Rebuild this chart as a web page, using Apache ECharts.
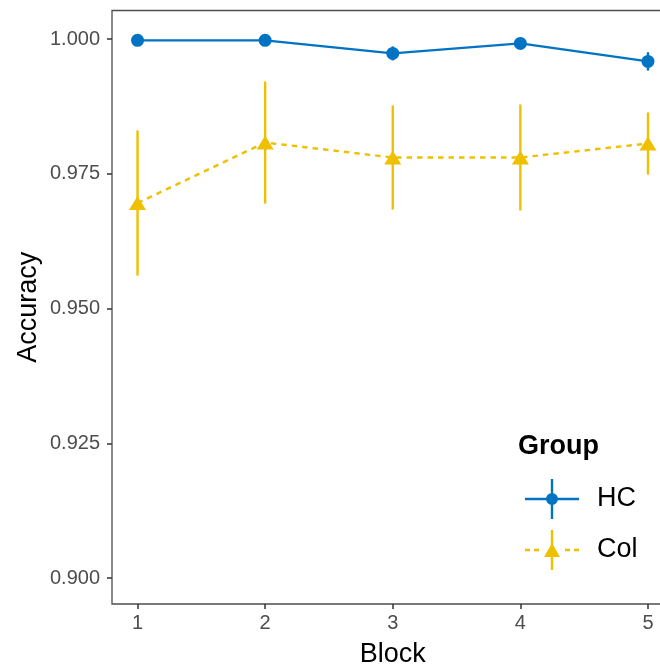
<!DOCTYPE html>
<html>
<head>
<meta charset="utf-8">
<script src="https://cdn.jsdelivr.net/npm/echarts@6/dist/echarts.min.js"></script>
<style>html,body{margin:0;padding:0;background:#fff;}#c{width:660px;height:668px;}</style>
</head>
<body>
<div id="c"></div>
<script>
// ---- data ----
const blocks = [1, 2, 3, 4, 5];
const hcMean = [0.99976, 0.99976, 0.99734, 0.99920, 0.99586];
const hcErr  = [0.0000, 0.0000, 0.0013, 0.0005, 0.0017];
const colMean = [0.96958, 0.98081, 0.97803, 0.97803, 0.98063];
const colErr  = [0.01347, 0.01133, 0.00966, 0.00984, 0.00576];
const yTicks = [0.900, 0.925, 0.950, 0.975, 1.000];
const seriesNames = ['HC', 'Col'];

const BLUE = '#0073C2', YELLOW = '#EFC000';
const FONT = '"Liberation Sans", Arial, Helvetica, sans-serif';

const pts = (m) => blocks.map((b, i) => [b, m[i]]);
const bars = (m, e) => blocks.map((b, i) => [b, m[i] - e[i], m[i] + e[i]]);

function errRender(color) {
  return function (params, api) {
    const p1 = api.coord([api.value(0), api.value(1)]);
    const p2 = api.coord([api.value(0), api.value(2)]);
    return {
      type: 'line',
      shape: { x1: p1[0], y1: p1[1], x2: p2[0], y2: p2[1] },
      style: { stroke: color, lineWidth: 2.4 }
    };
  };
}

// legend icons (key: horizontal line + vertical error bar + marker), 54x40 box
const circ = 'M21,20 A6,6 0 1,1 33,20 A6,6 0 1,1 21,20 Z';
const hcIcon = 'path://M0,18.8 H54 V21.2 H0 Z M25.8,0 H28.2 V40 H25.8 Z ' + circ;
let dash = '';
[[0,5],[9,14],[40,45],[49,54]].forEach(d => { dash += 'M' + d[0] + ',18.8 H' + d[1] + ' V21.2 H' + d[0] + ' Z '; });
const colIcon = 'path://' + dash + 'M25.8,0 H28.2 V40 H25.8 Z M19,27 L27,13 L35,27 Z';

const chart = echarts.init(document.getElementById('c'), null, { renderer: 'canvas' });
chart.setOption({
  animation: false,
  backgroundColor: '#fff',
  title: {
    text: 'Group', left: 513, top: 428,
    textStyle: { fontFamily: FONT, fontSize: 27, fontWeight: 'bold', color: '#000' }
  },
  legend: {
    orient: 'vertical', left: 520, top: 474,
    itemWidth: 54, itemHeight: 40, itemGap: 11,
    data: [
      { name: seriesNames[0], icon: hcIcon, itemStyle: { color: BLUE } },
      { name: seriesNames[1], icon: colIcon, itemStyle: { color: YELLOW } }
    ],
    textStyle: { fontFamily: FONT, fontSize: 27, color: '#000', padding: [0, 0, 0, 13] }
  },
  grid: {
    left: 112, top: 10.5, width: 561.5, height: 593.5,
    outerBoundsMode: 'none', containLabel: false,
    show: true, borderColor: '#4d4d4d', borderWidth: 1.3, backgroundColor: 'transparent'
  },
  xAxis: {
    type: 'value', min: 0.8, max: 5.2,
    name: 'Block', nameLocation: 'middle', nameGap: 37, nameMoveOverlap: false,
    nameTextStyle: { fontFamily: FONT, fontSize: 27, color: '#000' },
    axisLine: { show: false },
    axisTick: { show: true, length: 5, lineStyle: { color: '#333', width: 1.5 }, customValues: blocks },
    axisLabel: { customValues: blocks, margin: 9, fontFamily: FONT, fontSize: 20, color: '#4d4d4d' },
    splitLine: { show: false }
  },
  yAxis: {
    type: 'value', min: 0.8952, max: 1.0053,
    name: 'Accuracy', nameLocation: 'middle', nameGap: 70, nameRotate: 90, nameMoveOverlap: false,
    nameTextStyle: { fontFamily: FONT, fontSize: 27, color: '#000' },
    axisLine: { show: false },
    axisTick: { show: true, length: 5, lineStyle: { color: '#333', width: 1.5 }, customValues: yTicks },
    axisLabel: { customValues: yTicks, margin: 12, fontFamily: FONT, fontSize: 20, color: '#4d4d4d',
                 formatter: v => v.toFixed(3) },
    splitLine: { show: false }
  },
  series: [
    { name: seriesNames[0], type: 'custom', renderItem: errRender(BLUE), data: bars(hcMean, hcErr), z: 2, silent: true },
    { name: seriesNames[1], type: 'custom', renderItem: errRender(YELLOW), data: bars(colMean, colErr), z: 2, silent: true },
    { name: seriesNames[0], type: 'line', data: pts(hcMean), symbol: 'circle', symbolSize: 13,
      itemStyle: { color: BLUE }, lineStyle: { color: BLUE, width: 2.4 }, z: 3 },
    { name: seriesNames[1], type: 'line', data: pts(colMean), symbol: 'triangle', symbolSize: [17, 14],
      itemStyle: { color: YELLOW }, lineStyle: { color: YELLOW, width: 2.4, type: [5.5, 5] }, z: 3 }
  ]
});
</script>
</body>
</html>
